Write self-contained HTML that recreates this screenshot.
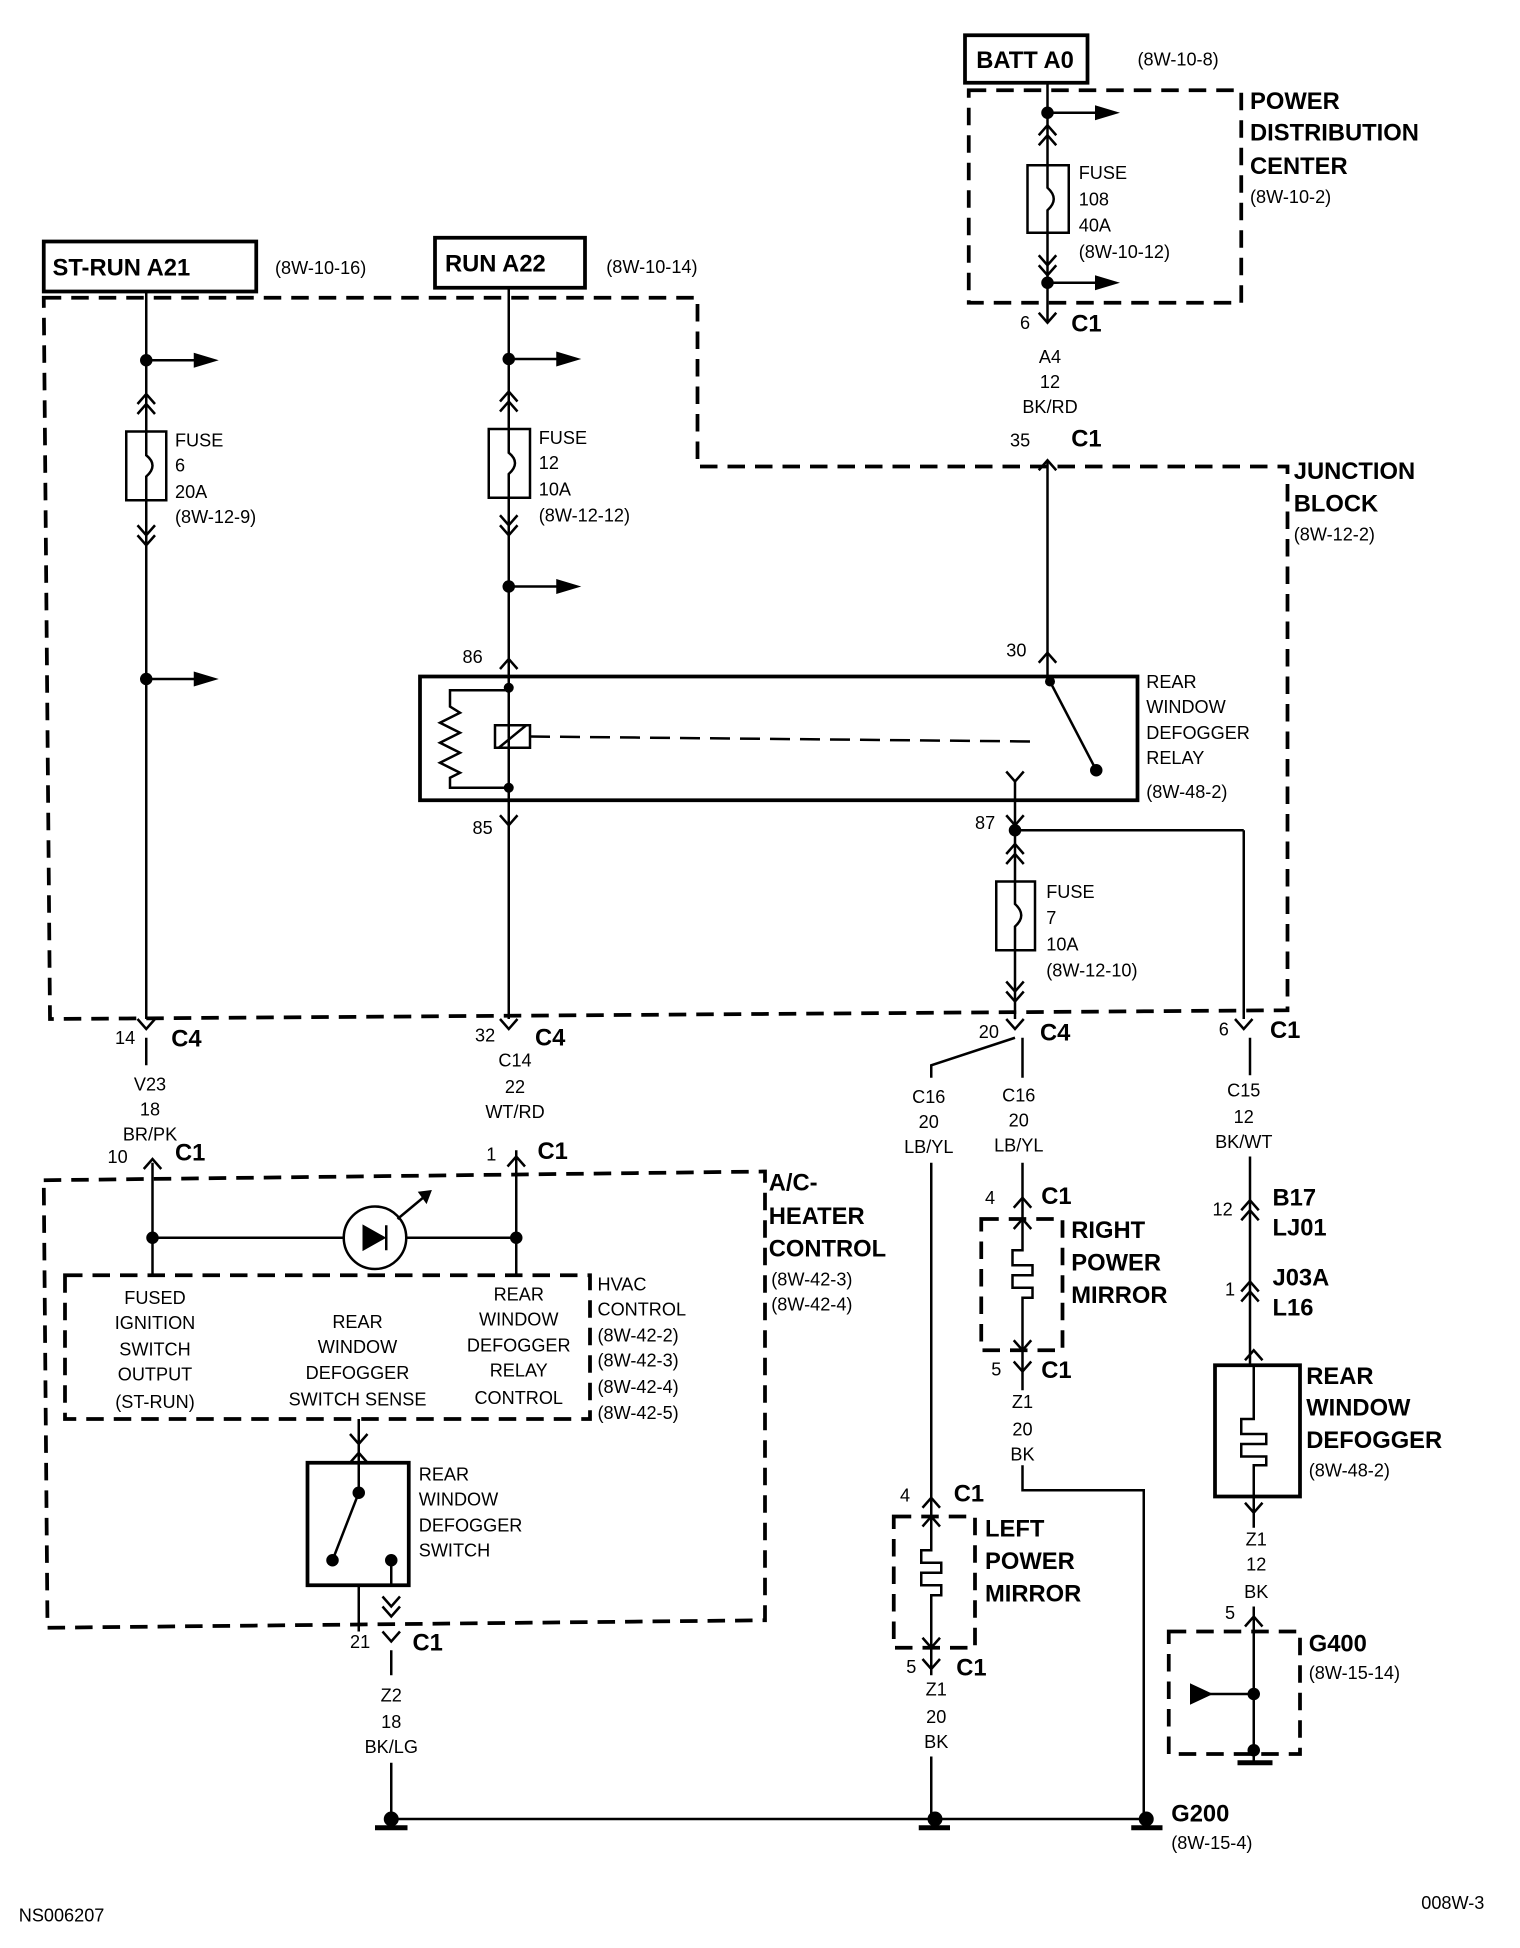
<!DOCTYPE html>
<html><head><meta charset="utf-8"><style>
html,body{margin:0;padding:0;background:#fff}
svg{display:block}
text{font-family:"Liberation Sans",sans-serif;font-size:14.5px;fill:#000}
.b{font-weight:bold;font-size:19px}
.c{text-anchor:middle}
</style></head><body>
<svg width="1520" height="1948" viewBox="0 0 1216 1558" xmlns="http://www.w3.org/2000/svg">
<defs>
<g id="dn"><path d="M-7,-8 L0,0 L7,-8" fill="none" stroke="#000" stroke-width="2"/></g>
<g id="up"><path d="M-7,8 L0,0 L7,8" fill="none" stroke="#000" stroke-width="2"/></g>
<g id="ar"><line x1="0" y1="0" x2="40" y2="0" stroke="#000" stroke-width="2"/><path d="M38,-6 L58,0 L38,6 Z"/></g>
</defs>
<g stroke="#000" stroke-width="2" fill="none">
<rect x="772" y="28" width="98" height="38" stroke-width="3"/>
<rect x="35" y="193" width="170" height="40" stroke-width="3"/>
<rect x="348" y="190" width="120" height="40" stroke-width="3"/>
<g stroke-dasharray="14,8" stroke-width="3">
<rect x="775" y="72" width="218" height="170"/>
<path d="M35,238 L558,238 L558,373 L1030,373 L1030,808 L40,815 Z"/>
<path d="M35,944 L612,937 L612,1296 L38,1302 Z"/>
<rect x="52" y="1020" width="420" height="115"/>
<rect x="785" y="975" width="65" height="105"/>
<rect x="715" y="1213" width="65" height="105"/>
<rect x="935" y="1305" width="105" height="98"/>
</g>
<line x1="838" y1="66" x2="838" y2="258"/>
<line x1="838" y1="368" x2="838" y2="541"/>
<rect x="822" y="132" width="33" height="54" fill="#fff"/>
<path d="M838,132 L838,150 Q848,159 838,168 L838,186"/>
<line x1="117" y1="233" x2="117" y2="815"/>
<rect x="101" y="345" width="32" height="55" fill="#fff"/>
<path d="M117,345 L117,364 Q127,372 117,381 L117,400"/>
<line x1="407" y1="230" x2="407" y2="815"/>
<rect x="391" y="343" width="33" height="55" fill="#fff"/>
<path d="M407,343 L407,362 Q417,370 407,379 L407,398"/>
<rect x="336" y="541" width="574" height="99" stroke-width="3" fill="#fff"/>
<line x1="407" y1="541" x2="407" y2="640"/>
<path d="M407,552 L360,552 L360,565 L368,570 L352,578 L368,586 L352,594 L368,602 L352,610 L368,618 L360,622 L360,630 L407,630"/>
<rect x="396" y="580" width="28" height="18"/>
<line x1="399" y1="598" x2="421" y2="580"/>
<line x1="424" y1="589" x2="826" y2="593" stroke-dasharray="16,8"/>
<line x1="840" y1="545" x2="877" y2="616"/>
<line x1="812" y1="625" x2="812" y2="815"/>
<line x1="812" y1="664" x2="995" y2="664"/>
<line x1="995" y1="664" x2="995" y2="815"/>
<rect x="797" y="705" width="31" height="55" fill="#fff"/>
<path d="M812,705 L812,723 Q822,732 812,741 L812,760"/>
<line x1="117" y1="830" x2="117" y2="852"/>
<line x1="122" y1="930" x2="122" y2="1020"/>
<line x1="413" y1="920" x2="413" y2="1020"/>
<line x1="122" y1="990" x2="413" y2="990"/>
<circle cx="300" cy="990" r="25" fill="#fff"/>
<path d="M291,981 L291,999 L307,990 Z" fill="#000"/>
<line x1="309" y1="980" x2="309" y2="1000"/>
<line x1="318" y1="975" x2="342" y2="955"/>
<path d="M336,954 L344,953 L341,961 Z" fill="#000"/>
<line x1="287" y1="1135" x2="287" y2="1170"/>
<rect x="246" y="1170" width="81" height="98" stroke-width="3"/>
<line x1="287" y1="1268" x2="287" y2="1305"/>
<line x1="287" y1="1170" x2="287" y2="1194"/>
<line x1="287" y1="1194" x2="266" y2="1248"/>
<line x1="313" y1="1248" x2="313" y2="1268"/>
<line x1="287" y1="1268" x2="313" y2="1268"/>
<line x1="313" y1="1320" x2="313" y2="1340"/>
<line x1="313" y1="1410" x2="313" y2="1455"/>
<line x1="313" y1="1455" x2="920" y2="1455"/>
<path d="M812,830 L745,852 L745,862"/>
<line x1="745" y1="930" x2="745" y2="1215"/>
<path d="M745,1215 L745,1240 L737,1240 L737,1250 L753,1250 L753,1258 L737,1258 L737,1268 L753,1268 L753,1276 L745,1276 L745,1318"/>
<line x1="745" y1="1318" x2="745" y2="1340"/>
<line x1="745" y1="1405" x2="745" y2="1455"/>
<line x1="818" y1="830" x2="818" y2="862"/>
<line x1="818" y1="930" x2="818" y2="975"/>
<path d="M818,975 L818,1000 L810,1000 L810,1012 L826,1012 L826,1020 L810,1020 L810,1030 L826,1030 L826,1038 L818,1038 L818,1080"/>
<line x1="818" y1="1080" x2="818" y2="1112"/>
<path d="M818,1172 L818,1192 L915,1192 L915,1455"/>
<line x1="1000" y1="830" x2="1000" y2="860"/>
<line x1="1000" y1="925" x2="1000" y2="1092"/>
<rect x="972" y="1092" width="68" height="105" stroke-width="3"/>
<path d="M1003,1092 L1003,1135 L993,1135 L993,1147 L1013,1147 L1013,1155 L993,1155 L993,1165 L1013,1165 L1013,1172 L1003,1172 L1003,1197"/>
<line x1="1003" y1="1197" x2="1003" y2="1222"/>
<line x1="1003" y1="1285" x2="1003" y2="1410"/>
<line x1="960" y1="1355" x2="1003" y2="1355"/>
<path d="M953,1348 L968,1355 L953,1362 Z" fill="#000"/>
<line x1="990" y1="1410" x2="1018" y2="1410" stroke-width="4"/>
<line x1="300" y1="1462" x2="326" y2="1462" stroke-width="4"/>
<line x1="735" y1="1462" x2="760" y2="1462" stroke-width="4"/>
<line x1="905" y1="1462" x2="930" y2="1462" stroke-width="4"/>
</g>
<g>
<circle cx="838" cy="90" r="5"/><circle cx="838" cy="226" r="5"/>
<circle cx="117" cy="288" r="5"/><circle cx="117" cy="543" r="5"/>
<circle cx="407" cy="287" r="5"/><circle cx="407" cy="469" r="5"/>
<circle cx="407" cy="550" r="4"/><circle cx="407" cy="630" r="4"/>
<circle cx="840" cy="545" r="4"/><circle cx="877" cy="616" r="5"/>
<circle cx="812" cy="664" r="5"/>
<circle cx="122" cy="990" r="5"/><circle cx="413" cy="990" r="5"/>
<circle cx="287" cy="1194" r="5"/><circle cx="266" cy="1248" r="5"/><circle cx="313" cy="1248" r="5"/>
<circle cx="1003" cy="1355" r="5"/><circle cx="1003" cy="1400" r="5"/>
<circle cx="313" cy="1455" r="6"/><circle cx="748" cy="1455" r="6"/><circle cx="917" cy="1455" r="6"/>
</g>
<use href="#ar" x="838" y="90"/><use href="#ar" x="838" y="226"/>
<use href="#ar" x="117" y="288"/><use href="#ar" x="117" y="543"/>
<use href="#ar" x="407" y="287"/><use href="#ar" x="407" y="469"/>
<use href="#up" x="838" y="100"/><use href="#up" x="838" y="108"/>
<use href="#dn" x="838" y="212"/><use href="#dn" x="838" y="220"/>
<use href="#dn" x="838" y="258"/><use href="#up" x="838" y="368"/>
<use href="#up" x="838" y="522"/>
<use href="#up" x="117" y="315"/><use href="#up" x="117" y="323"/>
<use href="#dn" x="117" y="428"/><use href="#dn" x="117" y="436"/>
<use href="#up" x="407" y="313"/><use href="#up" x="407" y="321"/>
<use href="#dn" x="407" y="420"/><use href="#dn" x="407" y="428"/>
<use href="#up" x="407" y="527"/><use href="#dn" x="407" y="660"/>
<use href="#dn" x="812" y="625"/><use href="#dn" x="812" y="660"/>
<use href="#up" x="812" y="675"/><use href="#up" x="812" y="683"/>
<use href="#dn" x="812" y="793"/><use href="#dn" x="812" y="801"/>
<use href="#dn" x="117" y="823"/><use href="#dn" x="407" y="823"/>
<use href="#dn" x="812" y="823"/><use href="#dn" x="995" y="823"/>
<use href="#up" x="122" y="927"/><use href="#up" x="413" y="925"/>
<use href="#dn" x="287" y="1155"/><use href="#up" x="287" y="1162"/>
<use href="#dn" x="313" y="1285"/><use href="#dn" x="313" y="1293"/><use href="#dn" x="313" y="1313"/>
<use href="#up" x="818" y="958"/><use href="#up" x="818" y="975"/>
<use href="#dn" x="818" y="1080"/><use href="#dn" x="818" y="1097"/>
<use href="#up" x="745" y="1198"/><use href="#up" x="745" y="1213"/>
<use href="#dn" x="745" y="1318"/><use href="#dn" x="745" y="1335"/>
<use href="#up" x="1000" y="960"/><use href="#up" x="1000" y="968"/>
<use href="#up" x="1000" y="1025"/><use href="#up" x="1000" y="1033"/>
<use href="#up" x="1003" y="1080"/><use href="#dn" x="1003" y="1210"/>
<use href="#up" x="1003" y="1293"/>
<text x="781" y="54" class="b">BATT A0</text>
<text x="910" y="52">(8W-10-8)</text>
<text x="1000" y="87" class="b">POWER</text>
<text x="1000" y="112" class="b">DISTRIBUTION</text>
<text x="1000" y="139" class="b">CENTER</text>
<text x="1000" y="162">(8W-10-2)</text>
<text x="863" y="143">FUSE</text><text x="863" y="164">108</text><text x="863" y="185">40A</text><text x="863" y="206">(8W-10-12)</text>
<text x="816" y="263">6</text><text x="857" y="265" class="b">C1</text>
<text x="840" y="290" class="c">A4</text><text x="840" y="310" class="c">12</text><text x="840" y="330" class="c">BK/RD</text>
<text x="808" y="357">35</text><text x="857" y="357" class="b">C1</text>
<text x="1035" y="383" class="b">JUNCTION</text>
<text x="1035" y="409" class="b">BLOCK</text>
<text x="1035" y="432">(8W-12-2)</text>
<text x="42" y="220" class="b">ST-RUN A21</text>
<text x="220" y="219">(8W-10-16)</text>
<text x="356" y="217" class="b">RUN A22</text>
<text x="485" y="218">(8W-10-14)</text>
<text x="140" y="357">FUSE</text><text x="140" y="377">6</text><text x="140" y="398">20A</text><text x="140" y="418">(8W-12-9)</text>
<text x="431" y="355">FUSE</text><text x="431" y="375">12</text><text x="431" y="396">10A</text><text x="431" y="417">(8W-12-12)</text>
<text x="370" y="530">86</text><text x="805" y="525">30</text>
<text x="917" y="550">REAR</text><text x="917" y="570">WINDOW</text><text x="917" y="591">DEFOGGER</text><text x="917" y="611">RELAY</text><text x="917" y="638">(8W-48-2)</text>
<text x="378" y="667">85</text><text x="780" y="663">87</text>
<text x="837" y="718">FUSE</text><text x="837" y="739">7</text><text x="837" y="760">10A</text><text x="837" y="781">(8W-12-10)</text>
<text x="92" y="835">14</text><text x="137" y="837" class="b">C4</text>
<text x="380" y="833">32</text><text x="428" y="836" class="b">C4</text>
<text x="783" y="830">20</text><text x="832" y="832" class="b">C4</text>
<text x="975" y="828">6</text><text x="1016" y="830" class="b">C1</text>
<text x="120" y="872" class="c">V23</text><text x="120" y="892" class="c">18</text><text x="120" y="912" class="c">BR/PK</text>
<text x="412" y="853" class="c">C14</text><text x="412" y="874" class="c">22</text><text x="412" y="894" class="c">WT/RD</text>
<text x="743" y="882" class="c">C16</text><text x="743" y="902" class="c">20</text><text x="743" y="922" class="c">LB/YL</text>
<text x="815" y="881" class="c">C16</text><text x="815" y="901" class="c">20</text><text x="815" y="921" class="c">LB/YL</text>
<text x="995" y="877" class="c">C15</text><text x="995" y="898" class="c">12</text><text x="995" y="918" class="c">BK/WT</text>
<text x="86" y="930">10</text><text x="140" y="928" class="b">C1</text>
<text x="389" y="928">1</text><text x="430" y="927" class="b">C1</text>
<text x="615" y="952" class="b">A/C-</text><text x="615" y="979" class="b">HEATER</text><text x="615" y="1005" class="b">CONTROL</text>
<text x="617" y="1028">(8W-42-3)</text><text x="617" y="1048">(8W-42-4)</text>
<text x="124" y="1043" class="c">FUSED</text><text x="124" y="1063" class="c">IGNITION</text><text x="124" y="1084" class="c">SWITCH</text><text x="124" y="1104" class="c">OUTPUT</text><text x="124" y="1126" class="c">(ST-RUN)</text>
<text x="286" y="1062" class="c">REAR</text><text x="286" y="1082" class="c">WINDOW</text><text x="286" y="1103" class="c">DEFOGGER</text><text x="286" y="1124" class="c">SWITCH SENSE</text>
<text x="415" y="1040" class="c">REAR</text><text x="415" y="1060" class="c">WINDOW</text><text x="415" y="1081" class="c">DEFOGGER</text><text x="415" y="1101" class="c">RELAY</text><text x="415" y="1123" class="c">CONTROL</text>
<text x="478" y="1032">HVAC</text><text x="478" y="1052">CONTROL</text><text x="478" y="1073">(8W-42-2)</text><text x="478" y="1093">(8W-42-3)</text><text x="478" y="1114">(8W-42-4)</text><text x="478" y="1135">(8W-42-5)</text>
<text x="335" y="1184">REAR</text><text x="335" y="1204">WINDOW</text><text x="335" y="1225">DEFOGGER</text><text x="335" y="1245">SWITCH</text>
<text x="280" y="1318">21</text><text x="330" y="1320" class="b">C1</text>
<text x="313" y="1361" class="c">Z2</text><text x="313" y="1382" class="c">18</text><text x="313" y="1402" class="c">BK/LG</text>
<text x="788" y="963">4</text><text x="833" y="963" class="b">C1</text>
<text x="857" y="990" class="b">RIGHT</text><text x="857" y="1016" class="b">POWER</text><text x="857" y="1042" class="b">MIRROR</text>
<text x="793" y="1100">5</text><text x="833" y="1102" class="b">C1</text>
<text x="818" y="1126" class="c">Z1</text><text x="818" y="1148" class="c">20</text><text x="818" y="1168" class="c">BK</text>
<text x="720" y="1201">4</text><text x="763" y="1201" class="b">C1</text>
<text x="788" y="1229" class="b">LEFT</text><text x="788" y="1255" class="b">POWER</text><text x="788" y="1281" class="b">MIRROR</text>
<text x="725" y="1338">5</text><text x="765" y="1340" class="b">C1</text>
<text x="749" y="1356" class="c">Z1</text><text x="749" y="1378" class="c">20</text><text x="749" y="1398" class="c">BK</text>
<text x="970" y="972">12</text><text x="1018" y="964" class="b">B17</text><text x="1018" y="988" class="b">LJ01</text>
<text x="980" y="1036">1</text><text x="1018" y="1028" class="b">J03A</text><text x="1018" y="1052" class="b">L16</text>
<text x="1045" y="1107" class="b">REAR</text><text x="1045" y="1132" class="b">WINDOW</text><text x="1045" y="1158" class="b">DEFOGGER</text>
<text x="1047" y="1181">(8W-48-2)</text>
<text x="1005" y="1236" class="c">Z1</text><text x="1005" y="1256" class="c">12</text><text x="1005" y="1278" class="c">BK</text>
<text x="980" y="1295">5</text>
<text x="1047" y="1321" class="b">G400</text><text x="1047" y="1343">(8W-15-14)</text>
<text x="937" y="1457" class="b">G200</text><text x="937" y="1479">(8W-15-4)</text>
<text x="15" y="1537">NS006207</text>
<text x="1137" y="1527">008W-3</text>
</svg>
</body></html>
